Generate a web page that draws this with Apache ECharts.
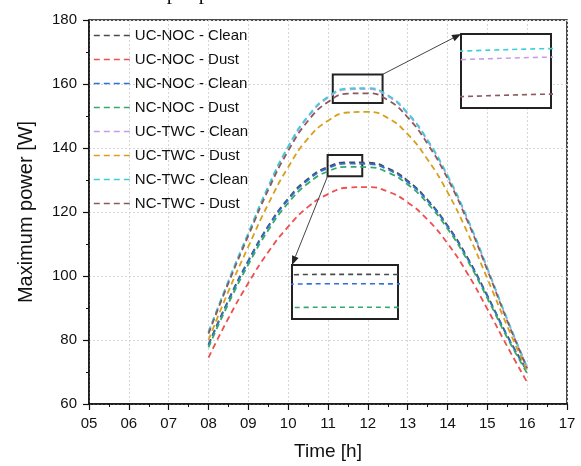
<!DOCTYPE html>
<html>
<head>
<meta charset="utf-8">
<script src="https://cdn.jsdelivr.net/npm/echarts@6/dist/echarts.min.js"></script>
<style>
  html, body { margin: 0; padding: 0; background: #fff; }
  #chart { width: 581px; height: 466px; }
</style>
</head>
<body>
<div id="chart"></div>
<script>
// Hourly sampling (half-hour steps) of the maximum module power, in W
const hours = [8, 8.5, 9, 9.5, 10, 10.5, 11, 11.5, 12, 12.5, 13, 13.5, 14, 14.5, 15, 15.5, 16];

const ucNocClean = [78.6, 92.5, 104.8, 115.6, 124.2, 130.4, 134.1, 135.5, 135.4, 133.7, 129.8, 123.8, 115.8, 105.8, 93.9, 81.4, 70.4];
const ucNocDust  = [74.5, 86.8, 97.8, 107.5, 115.4, 121.6, 125.6, 127.6, 127.8, 126.4, 123.0, 117.6, 110.2, 100.8, 89.7, 78.0, 66.8];
const ncNocClean = [78.4, 92.2, 104.5, 115.3, 123.8, 130.0, 133.7, 135.1, 135.0, 133.3, 129.4, 123.5, 115.5, 105.5, 93.7, 81.2, 70.2];
const ncNocDust  = [77.7, 91.4, 103.6, 114.3, 122.8, 129.0, 132.7, 134.1, 134.0, 132.4, 128.6, 122.7, 114.8, 104.9, 93.1, 80.7, 69.6];
const ucTwcClean = [82.3, 98.2, 113.2, 127.7, 140.2, 149.7, 155.7, 158.3, 158.4, 156.2, 150.7, 142.2, 131.2, 117.8, 102.3, 86.3, 71.3];
const ucTwcDust  = [80.0, 95.2, 109.2, 122.5, 134.0, 143.0, 148.5, 151.1, 151.3, 149.4, 144.3, 136.4, 126.2, 113.6, 99.2, 84.3, 70.4];
const ncTwcClean = [82.5, 98.5, 113.5, 128.0, 140.5, 150.0, 156.0, 158.6, 158.7, 156.5, 151.0, 142.5, 131.5, 118.0, 102.5, 86.5, 71.5];
const ncTwcDust  = [82.0, 97.8, 112.6, 126.9, 139.1, 148.5, 154.4, 157.0, 157.1, 155.0, 149.6, 141.3, 130.5, 117.2, 101.9, 86.0, 71.2];

const seriesNames = [
  'UC-NOC - Clean', 'UC-NOC - Dust', 'NC-NOC - Clean', 'NC-NOC - Dust',
  'UC-TWC - Clean', 'UC-TWC - Dust', 'NC-TWC - Clean', 'NC-TWC - Dust'
];
const seriesValues = [ucNocClean, ucNocDust, ncNocClean, ncNocDust, ucTwcClean, ucTwcDust, ncTwcClean, ncTwcDust];
const seriesColors = ['#4a4a4a', '#ee4f4f', '#2f6fd8', '#36a868', '#c79ce8', '#d8a01c', '#3ccfd6', '#8a5a5e'];

// Axis ranges
const xRange = [5, 17];
const yRange = [60, 180];

// Magnified windows: [xMin, xMax, yMin, yMax]
const topZoomBox = [11.12, 12.37, 154.1, 163.0];
const topInsetView = [11.5, 11.75, 156.6, 159.2];
const midZoomBox = [10.99, 11.86, 131.2, 137.8];
const midInsetView = [11.4, 11.7, 133.6, 135.9];

const topInsetSeries = [4, 6, 7];
const midInsetSeries = [0, 2, 3];

const FONT = '"Liberation Sans", Arial, sans-serif';

function pairs(vals) { return hours.map((h, i) => [h, vals[i]]); }
function pad2(v) { return (v < 10 ? '0' : '') + v; }

const lineSeries = [];
seriesNames.forEach((name, i) => {
  lineSeries.push({
    name: name,
    type: 'line',
    xAxisIndex: 0, yAxisIndex: 0,
    data: pairs(seriesValues[i]),
    smooth: true,
    symbol: 'none',
    showSymbol: false,
    color: seriesColors[i],
    lineStyle: { width: 1.8, type: [6, 4], color: seriesColors[i] },
    z: 3
  });
});

function insetSeries(indices, axisIdx) {
  return indices.map(i => ({
    name: seriesNames[i],
    type: 'line',
    xAxisIndex: axisIdx, yAxisIndex: axisIdx,
    data: pairs(seriesValues[i]),
    smooth: true,
    symbol: 'none',
    showSymbol: false,
    color: seriesColors[i],
    lineStyle: { width: 1.6, type: [5, 4], color: seriesColors[i] },
    clip: true,
    z: 6
  }));
}

// Frames marking the magnified regions
const boxSeries = {
  type: 'line', xAxisIndex: 0, yAxisIndex: 0, data: [], silent: true,
  markArea: {
    silent: true,
    itemStyle: { color: 'rgba(0,0,0,0)', borderColor: '#222', borderWidth: 2 },
    data: [
      [{ xAxis: topZoomBox[0], yAxis: topZoomBox[2] }, { xAxis: topZoomBox[1], yAxis: topZoomBox[3] }],
      [{ xAxis: midZoomBox[0], yAxis: midZoomBox[2] }, { xAxis: midZoomBox[1], yAxis: midZoomBox[3] }]
    ]
  },
  z: 4
};

function hiddenAxis(grid, min, max) {
  return {
    type: 'value', gridIndex: grid, min: min, max: max,
    axisLine: { show: false }, axisTick: { show: false },
    axisLabel: { show: false }, splitLine: { show: false }
  };
}

const chart = echarts.init(document.getElementById('chart'), null, { renderer: 'canvas' });

chart.setOption({
  animation: false,
  backgroundColor: '#fff',
  textStyle: { fontFamily: FONT },
  grid: [
    { left: 89, right: 14, top: 20, bottom: 61, show: true, borderColor: '#111', borderWidth: 1.5, backgroundColor: 'rgba(0,0,0,0)' },
    { left: 461, top: 34, width: 90, height: 74, show: true, borderColor: '#222', borderWidth: 2, backgroundColor: '#fff', z: 5 },
    { left: 292, top: 265, width: 106, height: 54, show: true, borderColor: '#222', borderWidth: 2, backgroundColor: '#fff', z: 5 }
  ],
  legend: {
    orient: 'vertical',
    left: 93, top: 28,
    padding: 0,
    itemWidth: 36, itemHeight: 14, itemGap: 9,
    data: seriesNames,
    itemStyle: { opacity: 0 },
    lineStyle: { width: 1.6 },
    textStyle: { fontSize: 15, color: '#111', fontFamily: FONT, lineHeight: 14 },
    selectedMode: false
  },
  xAxis: [
    {
      type: 'value', gridIndex: 0, min: xRange[0], max: xRange[1], interval: 1,
      name: 'Time [h]', nameLocation: 'middle', nameGap: 38,
      nameTextStyle: { fontSize: 19, color: '#111', fontFamily: FONT },
      axisLine: { show: true, onZero: false, lineStyle: { color: '#111', width: 1.5 } },
      axisTick: { show: true, length: 6, lineStyle: { color: '#111', width: 1.2 } },
      minorTick: { show: true, splitNumber: 2, length: 3, lineStyle: { color: '#111', width: 1 } },
      axisLabel: { fontSize: 15, color: '#111', margin: 12, formatter: pad2, fontFamily: FONT },
      splitLine: { show: true, lineStyle: { color: '#d6d6d6', type: [2, 2], width: 1 } }
    },
    hiddenAxis(1, topInsetView[0], topInsetView[1]),
    hiddenAxis(2, midInsetView[0], midInsetView[1])
  ],
  yAxis: [
    {
      type: 'value', gridIndex: 0, min: yRange[0], max: yRange[1], interval: 20,
      name: 'Maximum power [W]', nameLocation: 'middle', nameGap: 53, nameRotate: 90,
      nameTextStyle: { fontSize: 20, color: '#111', fontFamily: FONT },
      axisLine: { show: true, onZero: false, lineStyle: { color: '#111', width: 1.5 } },
      axisTick: { show: true, length: 6, lineStyle: { color: '#111', width: 1.2 } },
      minorTick: { show: true, splitNumber: 2, length: 3, lineStyle: { color: '#111', width: 1 } },
      axisLabel: { fontSize: 15, color: '#111', margin: 12, fontFamily: FONT },
      splitLine: { show: true, lineStyle: { color: '#d6d6d6', type: [2, 2], width: 1 } }
    },
    hiddenAxis(1, topInsetView[2], topInsetView[3]),
    hiddenAxis(2, midInsetView[2], midInsetView[3])
  ],
  series: lineSeries
    .concat([boxSeries])
    .concat(insetSeries(topInsetSeries, 1))
    .concat(insetSeries(midInsetSeries, 2))
});

// Leader arrows from each frame to its magnified view
function arrow(from, to) {
  const dx = to[0] - from[0], dy = to[1] - from[1];
  const len = Math.sqrt(dx * dx + dy * dy);
  const ux = dx / len, uy = dy / len;
  const headLen = 9, headW = 3.5;
  const bx = to[0] - ux * headLen, by = to[1] - uy * headLen;
  return [
    { type: 'line', shape: { x1: from[0], y1: from[1], x2: bx, y2: by }, style: { stroke: '#444', lineWidth: 1 }, z: 10 },
    { type: 'polygon', shape: { points: [to, [bx - uy * headW, by + ux * headW], [bx + uy * headW, by - ux * headW]] }, style: { fill: '#222' }, z: 10 }
  ];
}

const topBoxCorner = chart.convertToPixel({ gridIndex: 0 }, [topZoomBox[1], topZoomBox[3]]);
const topInsetCorner = chart.convertToPixel({ gridIndex: 1 }, [topInsetView[0], topInsetView[3]]);
const midBoxCorner = chart.convertToPixel({ gridIndex: 0 }, [midZoomBox[0], midZoomBox[2]]);
const midInsetCorner = chart.convertToPixel({ gridIndex: 2 }, [midInsetView[0], midInsetView[3]]);

chart.setOption({
  graphic: [
    {
      type: 'text', left: 18, top: -17, z: 20,
      style: { text: 'of the module output power.', font: '21px "Liberation Serif", "Times New Roman", serif', fill: '#111' }
    }
  ].concat(arrow(topBoxCorner, topInsetCorner)).concat(arrow(midBoxCorner, midInsetCorner))
});
</script>
</body>
</html>
